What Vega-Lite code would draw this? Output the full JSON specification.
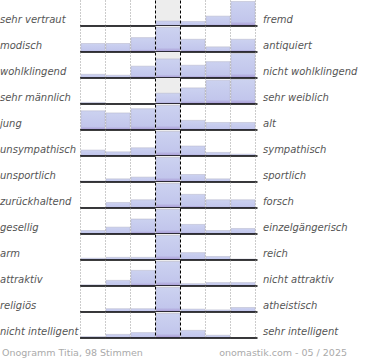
{
  "$schema": "https://vega.github.io/schema/vega-lite/v6.json",
  "padding": {"left": 0, "top": 0, "right": 5, "bottom": 0},
  "background": "white",
  "config": {"view": {"stroke": null}, "font": "DejaVu Sans"},
  "datasets": {
    "votes": [
      {"r":1,"k":0,"p":0},{"r":1,"k":1,"p":0},{"r":1,"k":2,"p":1},{"r":1,"k":3,"p":11},{"r":1,"k":4,"p":10},{"r":1,"k":5,"p":22},{"r":1,"k":6,"p":55},
      {"r":2,"k":0,"p":10},{"r":2,"k":1,"p":10},{"r":2,"k":2,"p":17},{"r":2,"k":3,"p":29},{"r":2,"k":4,"p":15},{"r":2,"k":5,"p":6},{"r":2,"k":6,"p":15},
      {"r":3,"k":0,"p":4},{"r":3,"k":1,"p":3},{"r":3,"k":2,"p":13},{"r":3,"k":3,"p":21},{"r":3,"k":4,"p":14},{"r":3,"k":5,"p":18},{"r":3,"k":6,"p":27},
      {"r":4,"k":0,"p":2},{"r":4,"k":1,"p":0},{"r":4,"k":2,"p":0},{"r":4,"k":3,"p":14},{"r":4,"k":4,"p":21},{"r":4,"k":5,"p":31},{"r":4,"k":6,"p":32},
      {"r":5,"k":0,"p":18},{"r":5,"k":1,"p":16},{"r":5,"k":2,"p":20},{"r":5,"k":3,"p":23},{"r":5,"k":4,"p":9},{"r":5,"k":5,"p":7},{"r":5,"k":6,"p":7},
      {"r":6,"k":0,"p":10},{"r":6,"k":1,"p":7},{"r":6,"k":2,"p":14},{"r":6,"k":3,"p":42},{"r":6,"k":4,"p":17},{"r":6,"k":5,"p":6},{"r":6,"k":6,"p":3},
      {"r":7,"k":0,"p":2},{"r":7,"k":1,"p":7},{"r":7,"k":2,"p":11},{"r":7,"k":3,"p":56},{"r":7,"k":4,"p":17},{"r":7,"k":5,"p":7},{"r":7,"k":6,"p":0},
      {"r":8,"k":0,"p":0},{"r":8,"k":1,"p":8},{"r":8,"k":2,"p":12},{"r":8,"k":3,"p":36},{"r":8,"k":4,"p":20},{"r":8,"k":5,"p":12},{"r":8,"k":6,"p":12},
      {"r":9,"k":0,"p":5},{"r":9,"k":1,"p":10},{"r":9,"k":2,"p":22},{"r":9,"k":3,"p":36},{"r":9,"k":4,"p":14},{"r":9,"k":5,"p":5},{"r":9,"k":6,"p":8},
      {"r":10,"k":0,"p":4},{"r":10,"k":1,"p":6},{"r":10,"k":2,"p":6},{"r":10,"k":3,"p":57},{"r":10,"k":4,"p":17},{"r":10,"k":5,"p":8},{"r":10,"k":6,"p":2},
      {"r":11,"k":0,"p":2},{"r":11,"k":1,"p":10},{"r":11,"k":2,"p":28},{"r":11,"k":3,"p":44},{"r":11,"k":4,"p":4},{"r":11,"k":5,"p":6},{"r":11,"k":6,"p":6},
      {"r":12,"k":0,"p":0},{"r":12,"k":1,"p":8},{"r":12,"k":2,"p":8},{"r":12,"k":3,"p":61},{"r":12,"k":4,"p":7},{"r":12,"k":5,"p":5},{"r":12,"k":6,"p":11},
      {"r":13,"k":0,"p":3},{"r":13,"k":1,"p":8},{"r":13,"k":2,"p":12},{"r":13,"k":3,"p":55},{"r":13,"k":4,"p":17},{"r":13,"k":5,"p":6},{"r":13,"k":6,"p":0}
    ],
    "labels": [
      {"r":1,"l":"sehr vertraut","rt":"fremd"},
      {"r":2,"l":"modisch","rt":"antiquiert"},
      {"r":3,"l":"wohlklingend","rt":"nicht wohlklingend"},
      {"r":4,"l":"sehr männlich","rt":"sehr weiblich"},
      {"r":5,"l":"\u2002jung","rt":"alt"},
      {"r":6,"l":"unsympathisch","rt":"sympathisch"},
      {"r":7,"l":"unsportlich","rt":"sportlich"},
      {"r":8,"l":"zurückhaltend","rt":"forsch"},
      {"r":9,"l":"gesellig","rt":"einzelgängerisch"},
      {"r":10,"l":"arm","rt":"reich"},
      {"r":11,"l":"attraktiv","rt":"nicht attraktiv"},
      {"r":12,"l":"religiös","rt":"atheistisch"},
      {"r":13,"l":"nicht intelligent","rt":"sehr intelligent"}
    ]
  },
  "data": {"name": "votes"},
  "transform": [
    {"lookup": "r", "from": {"data": {"name": "labels"}, "key": "r", "fields": ["l", "rt"]}}
  ],
  "facet": {"row": {"field": "r", "type": "ordinal", "header": null}},
  "spacing": 0,
  "bounds": "flush",
  "resolve": {"scale": {"y": "independent"}},
  "spec": {
    "width": 175,
    "height": 25.9,
    "layer": [
      {
        "transform": [{"filter": "datum.k == 0"}],
        "mark": {"type": "rect", "color": "#ededed"},
        "encoding": {
          "x": {"datum": 3, "type": "quantitative", "scale": {"domain": [0, 7], "nice": false, "zero": false}},
          "x2": {"datum": 4}
        }
      },
      {
        "mark": {
          "type": "bar",
          "fill": {"gradient": "linear", "x1": 0, "y1": 0, "x2": 0, "y2": 1,
            "stops": [{"offset": 0, "color": "#ccd2f0"}, {"offset": 0.82, "color": "#c2c6ec"}, {"offset": 1, "color": "#a596d2"}]},
          "stroke": "#b4b4c8",
          "strokeWidth": 0.5
        },
        "encoding": {
          "x": {
            "field": "k", "type": "quantitative", "bin": {"binned": true, "step": 1},
            "scale": {"domain": [0, 7], "nice": false, "zero": false},
            "axis": {
              "values": [0, 1, 2, 3, 4, 5, 6, 7],
              "labels": false, "ticks": false, "domain": false, "grid": true, "zindex": 1,
              "gridColor": {"condition": {"test": "datum.value == 3 || datum.value == 4", "value": "#000000"}, "value": "#999999"},
              "gridDash": {"condition": {"test": "datum.value == 3 || datum.value == 4", "value": [3, 2]}, "value": [1, 2]},
              "gridWidth": 1,
              "title": null
            }
          },
          "y": {"field": "p", "type": "quantitative", "axis": null, "scale": {"range": [25.9, 1.5], "nice": false}}
        }
      },
      {
        "transform": [{"filter": "datum.k == 0"}],
        "mark": {"type": "rule", "color": "#000000", "strokeWidth": 1.5},
        "encoding": {
          "x": {"datum": 0, "type": "quantitative"},
          "x2": {"datum": 7.1},
          "y": {"datum": 0, "type": "quantitative"}
        }
      },
      {
        "transform": [{"filter": "datum.k == 0"}],
        "mark": {"type": "text", "align": "left", "baseline": "alphabetic", "dx": -80, "dy": -3, "fontSize": 10, "fontStyle": "italic", "color": "#555555", "font": "DejaVu Sans"},
        "encoding": {
          "x": {"datum": 0, "type": "quantitative"},
          "y": {"datum": 0, "type": "quantitative"},
          "text": {"field": "l"}
        }
      },
      {
        "transform": [{"filter": "datum.k == 0"}],
        "mark": {"type": "text", "align": "left", "baseline": "alphabetic", "dx": 8, "dy": -3, "fontSize": 10, "fontStyle": "italic", "color": "#555555", "font": "DejaVu Sans"},
        "encoding": {
          "x": {"datum": 7, "type": "quantitative"},
          "y": {"datum": 0, "type": "quantitative"},
          "text": {"field": "rt"}
        }
      },
      {
        "transform": [{"filter": "datum.k == 0 && datum.r == 13"}],
        "mark": {"type": "text", "align": "left", "baseline": "alphabetic", "dx": -78, "dy": 18, "fontSize": 9.5, "color": "#aaaaaa", "font": "DejaVu Sans"},
        "encoding": {
          "x": {"datum": 0, "type": "quantitative"},
          "y": {"datum": 0, "type": "quantitative"},
          "text": {"value": "Onogramm Titia, 98 Stimmen"}
        }
      },
      {
        "transform": [{"filter": "datum.k == 0 && datum.r == 13"}],
        "mark": {"type": "text", "align": "right", "baseline": "alphabetic", "dx": 92, "dy": 18, "fontSize": 9.5, "color": "#aaaaaa", "font": "DejaVu Sans"},
        "encoding": {
          "x": {"datum": 7, "type": "quantitative"},
          "y": {"datum": 0, "type": "quantitative"},
          "text": {"value": "onomastik.com - 05 / 2025"}
        }
      }
    ]
  }
}
